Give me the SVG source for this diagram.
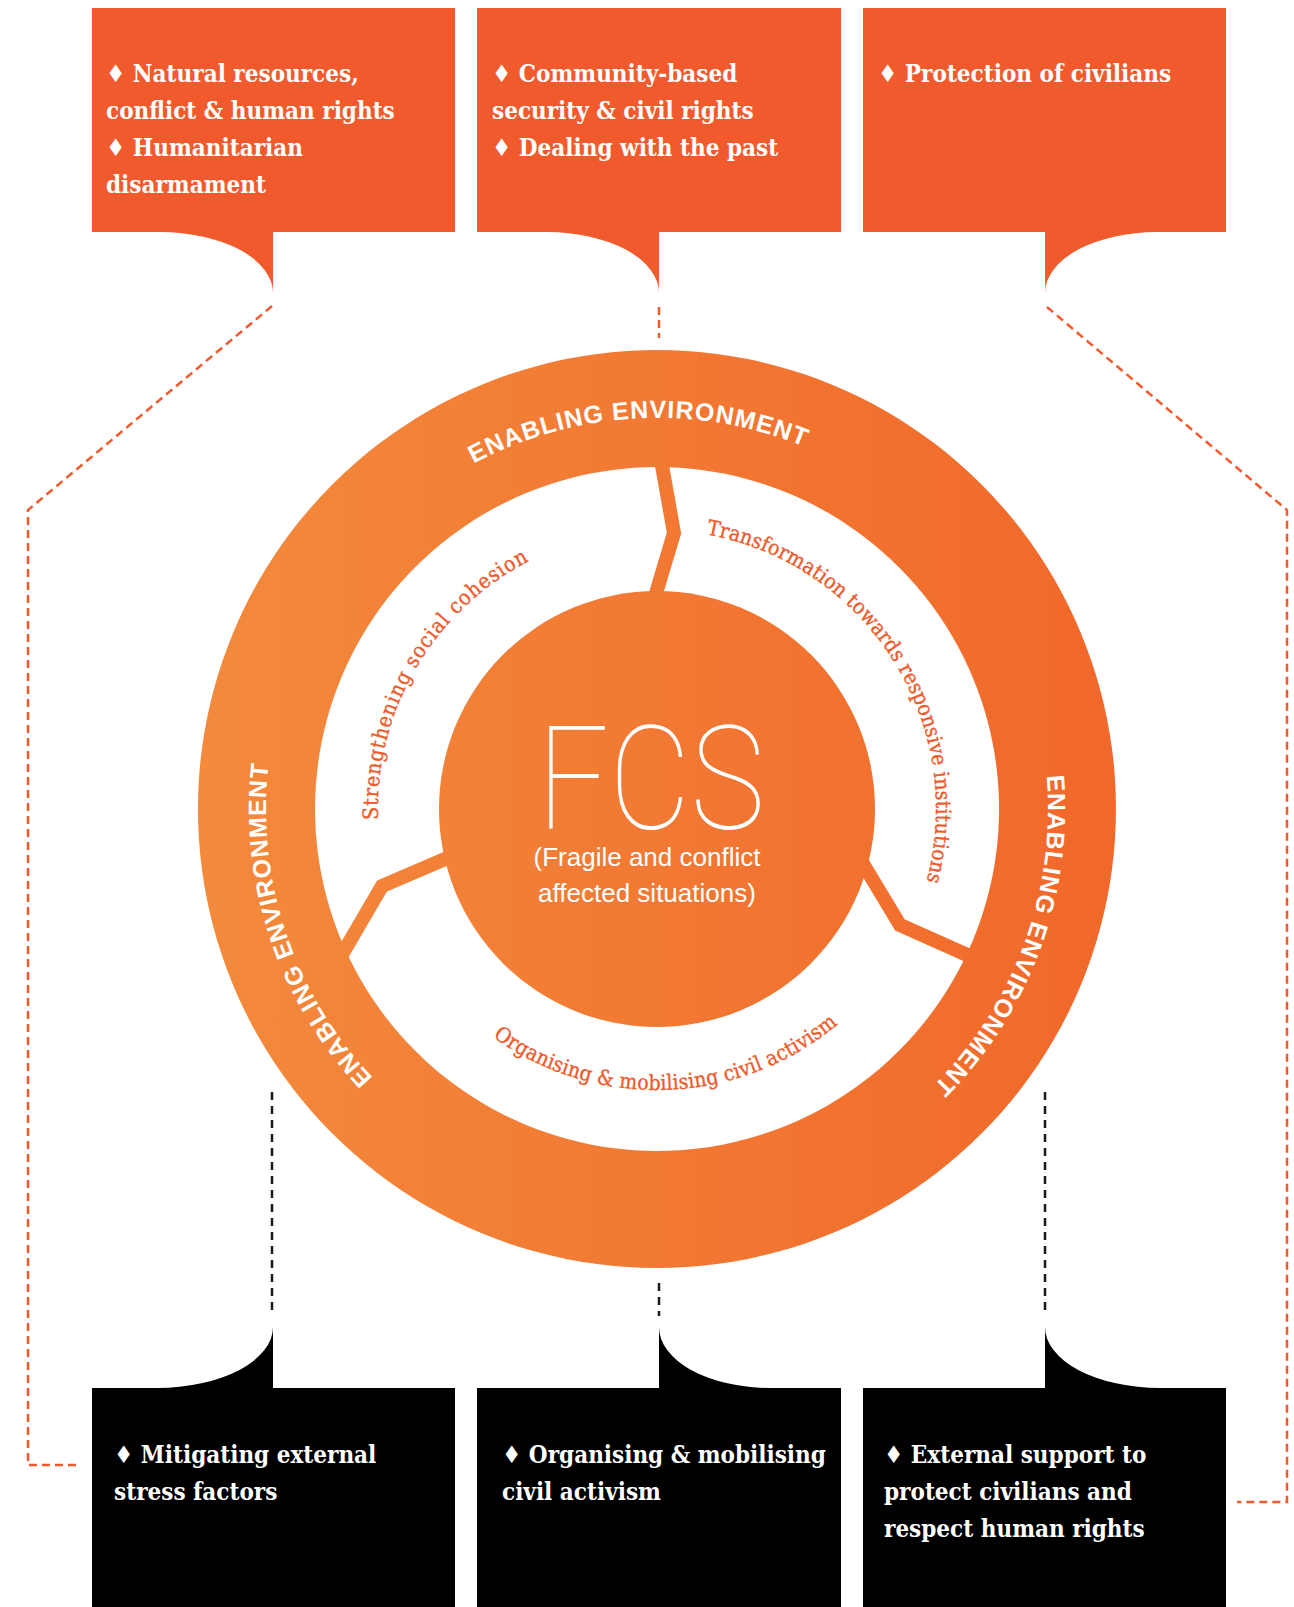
<svg xmlns="http://www.w3.org/2000/svg" width="1294" height="1607" viewBox="0 0 1294 1607">
  <defs>
    <linearGradient id="ringGrad" gradientUnits="userSpaceOnUse" x1="198" y1="0" x2="1117" y2="0">
      <stop offset="0" stop-color="#f38a3c"/>
      <stop offset="1" stop-color="#f1682a"/>
    </linearGradient>
    <!-- clockwise circles starting at the bottom -->
    <path id="arcOuter" d="M657,1200 A391,391 0 1 1 657,418 A391,391 0 1 1 657,1200"/>
    <path id="arcInnerCw" d="M657,1088 A279,279 0 1 1 657,530 A279,279 0 1 1 657,1088"/>
    <!-- counter-clockwise circle starting at the top -->
    <path id="arcInnerCcw" d="M657,528 A281,281 0 1 0 657,1090 A281,281 0 1 0 657,528"/>
  </defs>
  <style>
    .boxTop { fill: #f15a2c; }
    .boxBottom { fill: #000000; }
    .boxText { font-family: 'DejaVu Serif Condensed', 'DejaVu Serif', serif; font-stretch: condensed; font-weight: bold; font-size: 24px; fill: #ffffff; }
    .ringText { font-family: 'Liberation Sans', Arial, sans-serif; font-weight: bold; font-size: 25px; fill: #ffffff; letter-spacing: 1px; }
    .pillarText { font-family: 'DejaVu Serif Condensed', 'DejaVu Serif', serif; font-stretch: condensed; font-size: 21px; fill: #ef5a2b; stroke: #ef5a2b; stroke-width: 0.35; }
    .dashOrange { fill: none; stroke: #f15a2c; stroke-width: 2.5; stroke-dasharray: 8 5; }
    .dashBlack { fill: none; stroke: #1a1a1a; stroke-width: 2.5; stroke-dasharray: 8 6; }
    .spoke { fill: none; stroke: url(#ringGrad); stroke-width: 14; stroke-linejoin: miter; }
  </style>

  <rect width="1294" height="1607" fill="#ffffff"/>

  <!-- dashed connectors -->
  <g id="connectors">
    <polyline class="dashOrange" points="272,306 28,510 28,1465 78,1465"/>
    <line class="dashOrange" x1="659" y1="307" x2="659" y2="338"/>
    <polyline class="dashOrange" points="1047,307 1287,510 1287,1502 1237,1502"/>
    <line class="dashBlack" x1="272" y1="1092" x2="272" y2="1316"/>
    <line class="dashBlack" x1="659" y1="1283" x2="659" y2="1316"/>
    <line class="dashBlack" x1="1045" y1="1092" x2="1045" y2="1316"/>
  </g>

  <!-- outer ring: enabling environment -->
  <g id="ring">
    <path fill="url(#ringGrad)" fill-rule="evenodd" d="M657,350 A459,459 0 1 1 656.9,350 Z M657,467 A342,342 0 1 0 657.1,467 Z"/>
    <text class="ringText" text-anchor="middle"><textPath href="#arcOuter" startOffset="49.2%">ENABLING ENVIRONMENT</textPath></text>
    <text class="ringText" text-anchor="middle"><textPath href="#arcOuter" startOffset="80.6%">ENABLING ENVIRONMENT</textPath></text>
    <text class="ringText" text-anchor="middle"><textPath href="#arcOuter" startOffset="19.9%">ENABLING ENVIRONMENT</textPath></text>
  </g>

  <!-- spokes between centre and ring -->
  <g id="spokes">
    <polyline class="spoke" points="661,460 674,533 654,600"/>
    <polyline class="spoke" points="452,856 382,886 340,958"/>
    <polyline class="spoke" points="862,862 900,925 974,958"/>
  </g>

  <!-- pillar labels in the white band -->
  <g id="pillars">
    <text class="pillarText" text-anchor="middle"><textPath href="#arcInnerCw" startOffset="33.4%" textLength="316">Strengthening social cohesion</textPath></text>
    <text class="pillarText" text-anchor="middle"><textPath href="#arcInnerCw" startOffset="66.0%" textLength="462">Transformation towards responsive institutions</textPath></text>
    <text class="pillarText" text-anchor="middle"><textPath href="#arcInnerCcw" startOffset="50.6%" textLength="372">Organising &amp; mobilising civil activism</textPath></text>
  </g>

  <!-- centre: FCS -->
  <g id="centre">
    <circle cx="657" cy="809" r="218" fill="url(#ringGrad)"/>
    <text x="651" y="829" text-anchor="middle" textLength="228" lengthAdjust="spacingAndGlyphs" font-family="Roboto, Lato, Inter, sans-serif" font-weight="100" font-size="145" fill="#ffffff">FCS</text>
    <text x="647" y="866" text-anchor="middle" font-family="'Liberation Sans', Arial, sans-serif" font-size="26" fill="#ffffff">(Fragile and conflict</text>
    <text x="647" y="902" text-anchor="middle" font-family="'Liberation Sans', Arial, sans-serif" font-size="26" fill="#ffffff">affected situations)</text>
  </g>

  <!-- top callouts -->
  <g id="box-top-left">
    <rect class="boxTop" x="92" y="8" width="363" height="224"/>
    <path class="boxTop" d="M160,232 A113,61 0 0 1 273,293 L273,232 Z"/>
    <text class="boxText" x="106" y="82">♦ Natural resources,</text>
    <text class="boxText" x="106" y="119">conflict &amp; human rights</text>
    <text class="boxText" x="106" y="156">♦ Humanitarian</text>
    <text class="boxText" x="106" y="193">disarmament</text>
  </g>
  <g id="box-top-middle">
    <rect class="boxTop" x="477" y="8" width="364" height="224"/>
    <path class="boxTop" d="M547,232 A112,61 0 0 1 659,293 L659,232 Z"/>
    <text class="boxText" x="492" y="82">♦ Community-based</text>
    <text class="boxText" x="492" y="119">security &amp; civil rights</text>
    <text class="boxText" x="492" y="156">♦ Dealing with the past</text>
  </g>
  <g id="box-top-right">
    <rect class="boxTop" x="863" y="8" width="363" height="224"/>
    <path class="boxTop" d="M1045,232 L1045,293 A112,61 0 0 1 1157,232 Z"/>
    <text class="boxText" x="878" y="82">♦ Protection of civilians</text>
  </g>

  <!-- bottom callouts -->
  <g id="box-bottom-left">
    <rect class="boxBottom" x="92" y="1388" width="363" height="219"/>
    <path class="boxBottom" d="M273,1388 L273,1327 A116,61 0 0 1 157,1388 Z"/>
    <text class="boxText" x="114" y="1463">♦ Mitigating external</text>
    <text class="boxText" x="114" y="1500">stress factors</text>
  </g>
  <g id="box-bottom-middle">
    <rect class="boxBottom" x="477" y="1388" width="364" height="219"/>
    <path class="boxBottom" d="M659,1388 L659,1327 A111,61 0 0 0 770,1388 Z"/>
    <text class="boxText" x="502" y="1463">♦ Organising &amp; mobilising</text>
    <text class="boxText" x="502" y="1500">civil activism</text>
  </g>
  <g id="box-bottom-right">
    <rect class="boxBottom" x="863" y="1388" width="363" height="219"/>
    <path class="boxBottom" d="M1045,1388 L1045,1327 A115,61 0 0 0 1160,1388 Z"/>
    <text class="boxText" x="884" y="1463">♦ External support to</text>
    <text class="boxText" x="884" y="1500">protect civilians and</text>
    <text class="boxText" x="884" y="1537">respect human rights</text>
  </g>
</svg>
